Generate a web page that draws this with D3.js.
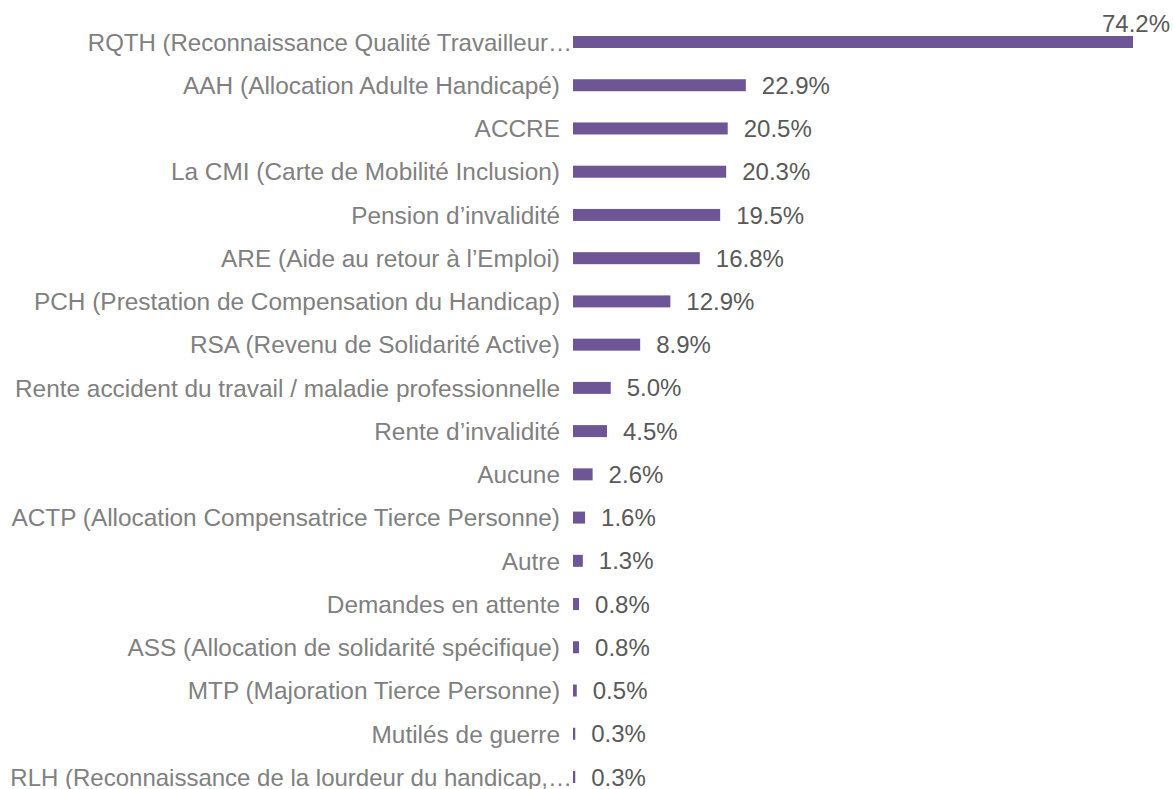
<!DOCTYPE html>
<html>
<head>
<meta charset="utf-8">
<script src="https://cdn.jsdelivr.net/npm/d3@7/dist/d3.min.js"></script>
<style>
  html, body { margin: 0; padding: 0; background: #ffffff; }
  svg { display: block; }
  text { font-family: "Liberation Sans", Arial, sans-serif; }
</style>
</head>
<body>
<svg id="chart" width="1173" height="789"></svg>
<script>
const categories = [
  "RQTH (Reconnaissance Qualité Travailleur…",
  "AAH (Allocation Adulte Handicapé)",
  "ACCRE",
  "La CMI (Carte de Mobilité Inclusion)",
  "Pension d’invalidité",
  "ARE (Aide au retour à l’Emploi)",
  "PCH (Prestation de Compensation du Handicap)",
  "RSA (Revenu de Solidarité Active)",
  "Rente accident du travail / maladie professionnelle",
  "Rente d’invalidité",
  "Aucune",
  "ACTP (Allocation Compensatrice Tierce Personne)",
  "Autre",
  "Demandes en attente",
  "ASS (Allocation de solidarité spécifique)",
  "MTP (Majoration Tierce Personne)",
  "Mutilés de guerre",
  "RLH (Reconnaissance de la lourdeur du handicap,…"
];
const values = [74.2, 22.9, 20.5, 20.3, 19.5, 16.8, 12.9, 8.9, 5.0, 4.5, 2.6, 1.6, 1.3, 0.8, 0.8, 0.5, 0.3, 0.3];
const valueLabels = ["74.2%", "22.9%", "20.5%", "20.3%", "19.5%", "16.8%", "12.9%", "8.9%", "5.0%", "4.5%", "2.6%", "1.6%", "1.3%", "0.8%", "0.8%", "0.5%", "0.3%", "0.3%"];

const svg = d3.select("#chart");
const barColor = "#6e5596";
const barH = 12;

const x = d3.scaleLinear().domain([0, 74.2]).range([573, 1133]);
const y = d3.scalePoint().domain(categories).range([42, 777]);

const rows = categories.map((c, i) => ({ c, v: values[i], lab: valueLabels[i], i }));

// bars
svg.append("g").selectAll("rect").data(rows).join("rect")
  .attr("x", x(0))
  .attr("y", d => y(d.c) - barH / 2)
  .attr("width", d => Math.max(1, x(d.v) - x(0)))
  .attr("height", barH)
  .attr("fill", barColor);

// category labels (axis)
const truncated = new Set([0, categories.length - 1]);
svg.append("g").selectAll("text").data(rows).join("text")
  .attr("x", d => truncated.has(d.i) ? 572 : 560)
  .attr("y", d => y(d.c))
  .attr("dy", "0.36em")
  .attr("text-anchor", "end")
  .attr("font-size", d => truncated.has(d.i) ? 24 : 24.4)
  .attr("fill", "#808080")
  .text(d => d.c);

// value labels
svg.append("g").selectAll("text").data(rows).join("text")
  .attr("x", d => d.i === 0 ? 1170 : x(d.v) + 16)
  .attr("y", d => d.i === 0 ? 32 : y(d.c) + 8.6)
  .attr("text-anchor", d => d.i === 0 ? "end" : "start")
  .attr("font-size", 24)
  .attr("fill", "#595959")
  .text(d => d.lab);
</script>
</body>
</html>
